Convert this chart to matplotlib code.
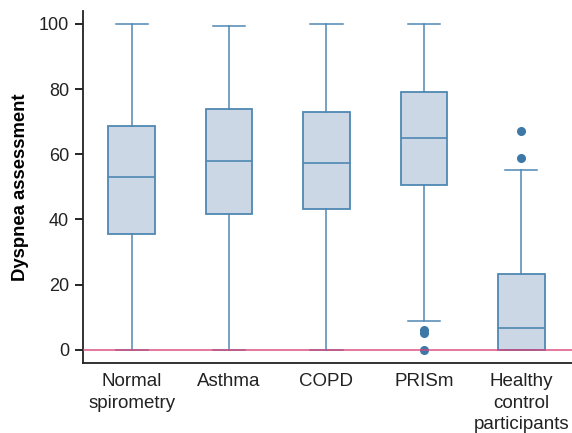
import matplotlib.pyplot as plt
import numpy as np

plt.rcParams['font.family'] = ['Liberation Sans', 'DejaVu Sans']

groups = ['Normal\nspirometry', 'Asthma', 'COPD', 'PRISm', 'Healthy\ncontrol\nparticipants']
q1 = [35.6, 41.7, 43.3, 50.6, 0.0]
median = [53.1, 58.0, 57.4, 65.0, 6.7]
q3 = [68.7, 73.9, 73.0, 79.1, 23.3]
whislo = [0.0, 0.0, 0.0, 8.9, 0.0]
whishi = [100.0, 99.4, 100.0, 100.0, 55.2]
fliers = [[], [], [], [6.2, 5.3, 0.0], [58.9, 67.2]]

edge = '#4f88b3'
fill = '#cbd7e4'

stats = []
for i in range(len(groups)):
    stats.append({'q1': q1[i], 'med': median[i], 'q3': q3[i],
                  'whislo': whislo[i], 'whishi': whishi[i],
                  'fliers': np.array(fliers[i]), 'label': groups[i]})

fig = plt.figure(figsize=(5.72, 4.33), dpi=100)
ax = fig.add_axes([0.145, 0.162, 0.855, 0.813])

ax.bxp(stats, positions=range(len(groups)), widths=0.48, patch_artist=True,
       capwidths=0.33,
       boxprops=dict(facecolor=fill, edgecolor=edge, linewidth=1.3),
       medianprops=dict(color=edge, linewidth=1.2),
       whiskerprops=dict(color=edge, linewidth=1.1),
       capprops=dict(color=edge, linewidth=1.1),
       flierprops=dict(marker='o', markerfacecolor='#3d78a6', markeredgecolor='#3d78a6',
                       markersize=5.5))

ax.axhline(0, color='#d9447a', linewidth=1.2, zorder=5, alpha=0.85)

ax.set_xlim(-0.5, 4.52)
ax.set_ylim(-4, 104)
ax.set_yticks([0, 20, 40, 60, 80, 100])
ax.set_xticks(range(len(groups)))
ax.set_xticklabels(groups, fontsize=13.5, color='#222222', linespacing=1.38)
ax.tick_params(axis='x', length=0, pad=7)
ax.tick_params(axis='y', labelsize=13, labelcolor='#222222', length=6, width=1.2, pad=4)
ax.set_ylabel('Dyspnea assessment', fontsize=13.3, fontweight='bold', labelpad=7)

for s in ['top', 'right']:
    ax.spines[s].set_visible(False)
for s in ['left', 'bottom']:
    ax.spines[s].set_linewidth(1.3)
    ax.spines[s].set_color('#222222')

fig.savefig('out.png', dpi=100)
